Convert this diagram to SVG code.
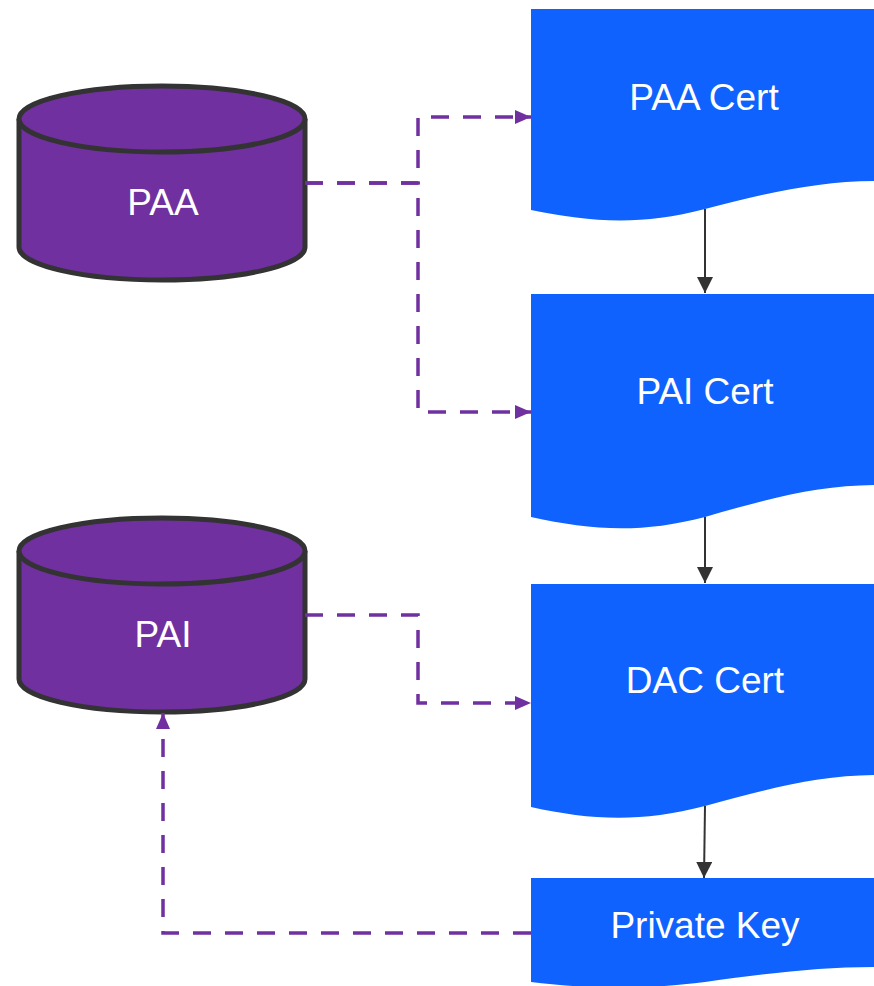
<svg xmlns="http://www.w3.org/2000/svg" width="874" height="986" viewBox="0 0 874 986">
  <defs>
    <style>
      .db { fill: #7030A0; stroke: #333333; stroke-width: 5; }
      .doc { fill: #0F62FE; stroke: none; }
      .lbl { font-family: "Liberation Sans", Arial, sans-serif; font-size: 37px; fill: #FFFFFF; text-anchor: middle; dominant-baseline: central; }
      .dash { fill: none; stroke: #7030A0; stroke-width: 3.5; stroke-dasharray: 18 14; }
      .solid { fill: none; stroke: #333333; stroke-width: 2; }
    </style>
    <marker id="arrPurple" viewBox="0 0 16 14" refX="16" refY="7" markerWidth="16" markerHeight="14" markerUnits="userSpaceOnUse" orient="auto">
      <path d="M0,0 L16,7 L0,14 Z" fill="#7030A0"/>
    </marker>
    <marker id="arrDark" viewBox="0 0 16 16" refX="16" refY="8" markerWidth="16" markerHeight="16" markerUnits="userSpaceOnUse" orient="auto">
      <path d="M0,0 L16,8 L0,16 Z" fill="#333333"/>
    </marker>
  </defs>
  <rect width="874" height="986" fill="#FFFFFF"/>

  <!-- databases -->
  <g id="paa">
    <path class="db" d="M19,119 A143,33 0 0 1 305,119 V247 A143,33 0 0 1 19,247 Z"/>
    <path class="db" fill="none" d="M19,119 A143,33 0 0 0 305,119"/>
    <text class="lbl" x="163" y="202">PAA</text>
  </g>
  <g id="pai">
    <path class="db" d="M19,551 A143,33 0 0 1 305,551 V679 A143,33 0 0 1 19,679 Z"/>
    <path class="db" fill="none" d="M19,551 A143,33 0 0 0 305,551"/>
    <text class="lbl" x="163" y="634">PAI</text>
  </g>

  <!-- documents -->
  <g id="paa-cert">
    <path class="doc" d="M531,9 H877 V181 C820,181 770,192 705,209 C640,226 590,222 531,210 Z"/>
    <text class="lbl" x="704" y="97">PAA Cert</text>
  </g>
  <g id="pai-cert">
    <path class="doc" d="M531,294 H877 V485 C820,485 770,498 705,517 C640,534 590,530 531,517 Z"/>
    <text class="lbl" x="705" y="391">PAI Cert</text>
  </g>
  <g id="dac-cert">
    <path class="doc" d="M531,584 H877 V775 C820,775 770,788 705,806 C640,823 590,820 531,807 Z"/>
    <text class="lbl" x="705" y="680">DAC Cert</text>
  </g>
  <g id="private-key">
    <path class="doc" d="M531,878 H877 V967 C820,967 770,973 705,982 C640,990 590,989 531,982 Z"/>
    <text class="lbl" x="705" y="925">Private Key</text>
  </g>

  <!-- connectors -->
  <g id="connectors">
    <path class="dash" d="M305,183 H418 V117 H531" marker-end="url(#arrPurple)"/>
    <path class="dash" d="M305,183 H418 V412 H531" marker-end="url(#arrPurple)"/>
    <path class="dash" d="M305,615 H418 V703 H531" marker-end="url(#arrPurple)"/>
    <path class="dash" d="M531,933 H163 V713" marker-end="url(#arrPurple)"/>
    <path class="solid" d="M705,209 V293" marker-end="url(#arrDark)"/>
    <path class="solid" d="M705,517 V583" marker-end="url(#arrDark)"/>
    <path class="solid" d="M705,806 L704,878" marker-end="url(#arrDark)"/>
  </g>
</svg>
